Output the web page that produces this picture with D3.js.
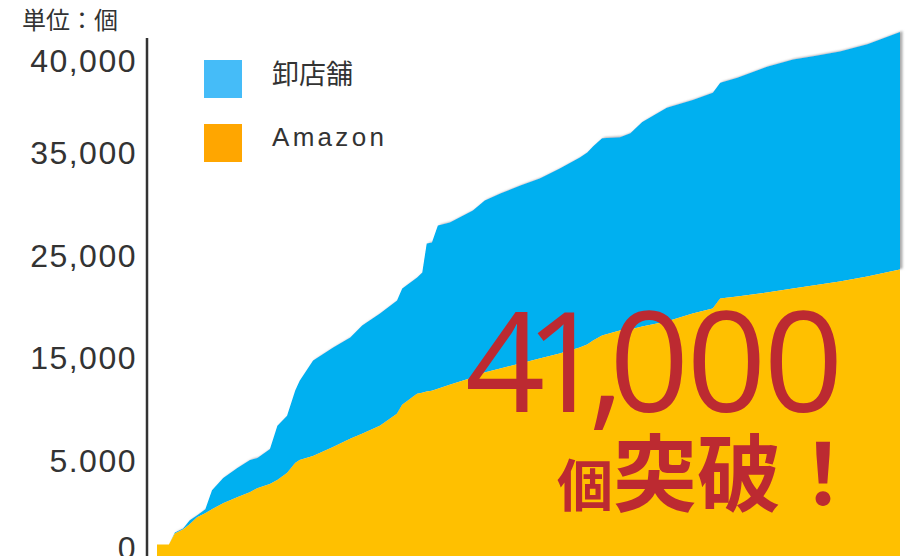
<!DOCTYPE html>
<html><head><meta charset="utf-8">
<script src="https://cdn.jsdelivr.net/npm/d3@7"></script>
<style>
html,body{margin:0;padding:0;background:#fff;overflow:hidden}
svg{display:block}
</style></head>
<body><svg id="chart" width="907" height="556"></svg>
<script>
// ---- data ----
const periods = [0,1.6,2.4,3.5,4.4,5.4,6.5,7.4,8.9,10.8,12.5,13.5,15.2,16.2,17.5,18.6,19.2,21.0,23.7,26.0,27.6,30.0,32.3,33.0,35.0,35.7,36.3,37.0,37.8,39.4,42.5,44.1,46.2,48.9,51.5,54.2,56.9,57.9,58.7,59.9,62.3,63.7,65.3,68.6,72.1,74.8,75.8,78.1,82.1,85.6,88.3,91.9,95.6,100];
const amazon = [230,230,860,1090,1380,1780,2010,2240,2590,2930,3220,3450,3680,3910,4310,4890,5100,5490,6370,7160,7650,8430,9610,10490,11570,11670,11770,11860,12060,12450,13140,13630,14020,14510,15000,15490,16080,16370,16770,17260,17750,17840,18140,18630,19410,19900,20880,21080,21470,21860,22160,22550,23040,23730];
const wholesale = [0,0,60,60,230,120,230,1090,1440,1670,1880,1840,2500,4520,5100,6980,7740,9310,9710,9900,10590,10980,11080,11370,11370,11760,14500,14500,15950,15850,16330,16810,17100,17380,17570,18050,18530,18680,18620,18570,18130,18260,18570,18850,18500,18400,17960,18040,18250,18250,18120,18000,17900,17870];
const seriesKeys = ["amazon","wholesale"];
const seriesNames = {wholesale:"卸店舗", amazon:"Amazon"};
const tickValues = [0,5000,15000,25000,35000,40000];
const tickLabels = ["0","5.000","15,000","25,000","35,000","40,000"];
const unitLabel = "単位：個";
const headline = "41,000";
const headlineUnit = "個";
const headlineTail = "突破！";

// ---- layout ----
const W = 907, H = 556;
const svg = d3.select("#chart");
const axisX = 147;
const plotLeft = 157, plotRight = 900;

const x = d3.scaleLinear().domain([0,100]).range([plotLeft, plotRight]);
// axis labels are unevenly spaced in the original graphic
const y = d3.scaleLinear().domain(tickValues).range([548.5,461,358.5,256.5,153.5,61.5]);

const table = periods.map((p,i)=>({period:p, amazon:amazon[i], wholesale:wholesale[i]}));
const stacked = d3.stack().keys(seriesKeys)(table);

const colors = {amazon:"#FFC000", wholesale:"#00B0F0"};
const legendColors = {wholesale:"#45BCF8", amazon:"#FFA600"};

const defs = svg.append("defs");
const f = defs.append("filter").attr("id","sh").attr("x","-5%").attr("y","-5%").attr("width","110%").attr("height","110%");
f.append("feDropShadow").attr("dx",2.5).attr("dy",-1).attr("stdDeviation",1.2)
 .attr("flood-color","#888").attr("flood-opacity",0.7);

const area = d3.area()
  .x(d=>x(d.data.period))
  .y0(d=> d[0]===0 ? H+5 : y(d[0]))
  .y1(d=>y(d[1]))
  .curve(d3.curveLinear);

const g = svg.append("g");
g.append("path").datum(stacked[1]).attr("d",area).attr("fill",colors.wholesale).attr("filter","url(#sh)");
g.append("path").datum(stacked[0]).attr("d",area).attr("fill",colors.amazon);

// y axis
const yAxis = d3.axisLeft(y).tickValues(tickValues).tickFormat((d,i)=>tickLabels[i]).tickSize(0).tickPadding(10);
const ax = svg.append("g").attr("transform",`translate(${axisX},0)`).call(yAxis);
ax.select(".domain").remove();
ax.selectAll("text").attr("font-family","'Liberation Sans', Arial, sans-serif")
  .attr("font-size",32).attr("fill","#333").attr("letter-spacing","1.5px");
svg.append("line").attr("x1",axisX).attr("x2",axisX).attr("y1",38).attr("y2",H)
  .attr("stroke","#333").attr("stroke-width",2.5);

svg.append("text").attr("x",22).attr("y",29).text(unitLabel)
  .attr("font-family","'Noto Sans CJK JP', sans-serif").attr("font-size",24).attr("fill","#333");

// legend
const legendOrder = ["wholesale","amazon"];
const lg = svg.append("g").attr("transform","translate(204,60)");
legendOrder.forEach((k,i)=>{
  const row = lg.append("g").attr("transform",`translate(0,${i*64})`);
  row.append("rect").attr("width",38).attr("height",38).attr("fill",legendColors[k]);
  const isLatin = k==="amazon";
  row.append("text").attr("x",68).attr("y", isLatin ? 22 : 24).text(seriesNames[k])
    .attr("font-family", isLatin ? "'Liberation Sans', Arial, sans-serif" : "'Noto Sans CJK JP', sans-serif")
    .attr("font-size", isLatin ? 26 : 27)
    .attr("letter-spacing", isLatin ? "3.3px" : "0px")
    .attr("fill","#333");
});

// headline
const red = "#BC2A31";
svg.append("text").attr("x",465).attr("y",412).text(headline)
  .attr("dx","0 -20 -17 -15 -3 -3")
  .attr("font-family","'Open Sans', 'Noto Sans', sans-serif").attr("font-weight",400)
  .attr("font-size",140).attr("fill",red);
svg.append("text").attr("x",557).attr("y",506).text(headlineUnit)
  .attr("font-family","'Noto Sans CJK JP', sans-serif").attr("font-weight",700)
  .attr("font-size",56).attr("fill",red);
svg.append("text").attr("x",613).attr("y",505).text(headlineTail)
  .attr("font-family","'Noto Sans CJK JP', sans-serif").attr("font-weight",700)
  .attr("font-size",84).attr("fill",red);
</script>
</body></html>
